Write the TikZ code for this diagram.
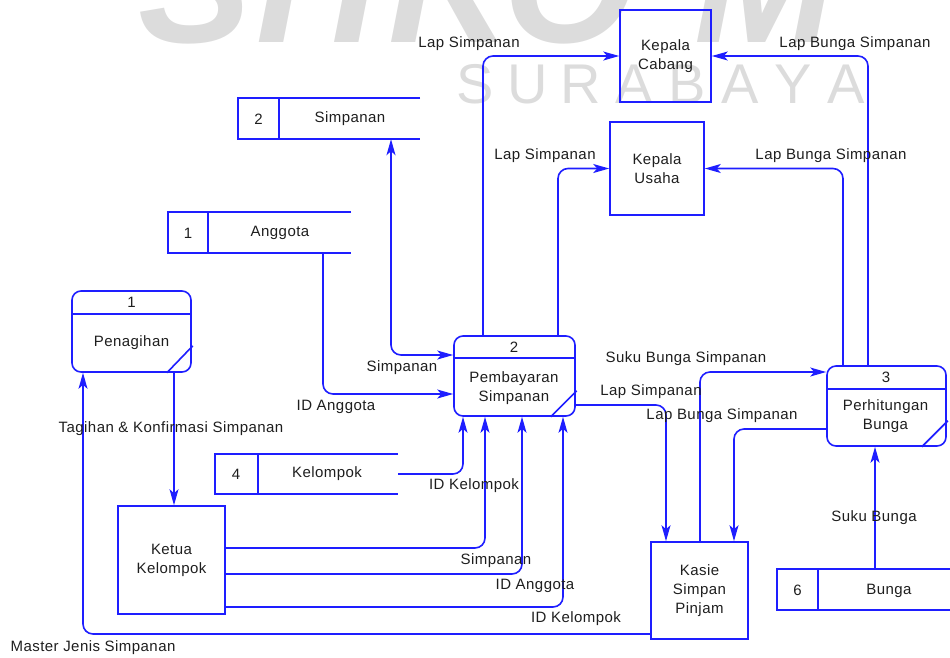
\documentclass[tikz,border=0pt]{standalone}
\usepackage{fontspec}
\setmainfont{Liberation Sans}[LetterSpace=3]
\usetikzlibrary{arrows.meta}

\definecolor{dfdblue}{RGB}{30,30,255}
\definecolor{wmgray}{RGB}{220,220,220}
\definecolor{txt}{RGB}{30,30,30}

\begin{document}
\begin{tikzpicture}[x=1pt,y=-1pt,
  every node/.style={font=\fontsize{15}{19}\selectfont, text=txt, inner sep=0pt},
  line/.style={draw=dfdblue, line width=1.6pt},
  tip/.tip={Stealth[length=16pt,width=9pt,inset=4pt]},
  flow/.style={line, rounded corners=10pt, -tip},
  entity/.style={line, align=center, minimum width=#1},
  proc/.style={line, rounded corners=9pt, minimum width=#1},
  storebox/.style={minimum width=#1, minimum height=41pt},
  label/.style={align=center},
  wmbig/.style={font=\fontsize{170}{170}\bfseries\itshape\selectfont, text=wmgray, anchor=base, inner sep=0pt},
  wmsmall/.style={font=\fontsize{56}{56}\selectfont, text=wmgray, anchor=base, inner sep=0pt}
]
\useasboundingbox (0,0) rectangle (950,657);

% ---------- background lettering ----------
\begin{scope}
  \clip (0,0) rectangle (950,657);
  \foreach \ch/\px [count=\i] in {S/195,T/280,I/355,K/450,O/570,M/765}
    \node[wmbig] (wmb\i) at (\px,42) {\ch};
  \foreach \ch [count=\i] in {S,U,R,A,B,A,Y,A}
    \node[wmsmall] (wms\i) at ({475+53*(\i-1)},103) {\ch};
\end{scope}

% ---------- external entities ----------
\node[entity=91pt, minimum height=92pt] (kc) at (665.5,56) {Kepala\\Cabang};
\node[entity=94pt, minimum height=93pt] (ku) at (657,168.5) {Kepala\\Usaha};
\node[entity=107pt, minimum height=108pt] (ketua) at (171.5,560) {Ketua\\Kelompok};
\node[entity=97pt, minimum height=97pt] (kasie) at (699.5,590.5) {Kasie\\Simpan\\Pinjam};

% ---------- processes ----------
\node[proc=119pt, minimum height=81pt] (p1) at (131.5,331.5) {};
\draw[line] (p1.west |- 0,314) -- (p1.east |- 0,314);
\draw[line] ([xshift=-25pt]p1.south east) -- ([xshift=1pt,yshift=27pt]p1.south east);
\node (p1id) at (131.5,302) {1};
\node (p1nm) at (131.5,343) {Penagihan};

\node[proc=121pt, minimum height=80pt] (p2) at (514.5,376) {};
\draw[line] (p2.west |- 0,358) -- (p2.east |- 0,358);
\draw[line] ([xshift=-25pt]p2.south east) -- ([xshift=1pt,yshift=26pt]p2.south east);
\node (p2id) at (514,347) {2};
\node[align=center] (p2nm) at (514,388.5) {Pembayaran\\Simpanan};

\node[proc=119pt, minimum height=80pt] (p3) at (886.5,406) {};
\draw[line] (p3.west |- 0,389) -- (p3.east |- 0,389);
\draw[line] ([xshift=-25pt]p3.south east) -- ([xshift=1pt,yshift=26pt]p3.south east);
\node (p3id) at (886,377) {3};
\node[align=center] (p3nm) at (885.5,416.5) {Perhitungan\\Bunga};

% ---------- data stores ----------
\node[storebox=182pt] (s2) at (329,118.5) {};
\draw[line] (s2.north east) -- (s2.north west) -- (s2.south west) -- (s2.south east);
\draw[line] ([xshift=41pt]s2.north west) -- ([xshift=41pt]s2.south west);
\node (s2id) at (258.5,119) {2};
\node (s2nm) at (350,119) {Simpanan};

\node[storebox=183pt] (s1) at (259.5,232.5) {};
\draw[line] (s1.north east) -- (s1.north west) -- (s1.south west) -- (s1.south east);
\draw[line] ([xshift=40pt]s1.north west) -- ([xshift=40pt]s1.south west);
\node (s1id) at (188,233) {1};
\node (s1nm) at (280,233) {Anggota};

\node[storebox=183pt, minimum height=40pt] (s4) at (306.5,474) {};
\draw[line] (s4.north east) -- (s4.north west) -- (s4.south west) -- (s4.south east);
\draw[line] ([xshift=43pt]s4.north west) -- ([xshift=43pt]s4.south west);
\node (s4id) at (236,474) {4};
\node (s4nm) at (327,474) {Kelompok};

\node[storebox=177pt] (s6) at (865.5,589.5) {};
\draw[line] (s6.north east) -- (s6.north west) -- (s6.south west) -- (s6.south east);
\draw[line] ([xshift=41pt]s6.north west) -- ([xshift=41pt]s6.south west);
\node (s6id) at (797.5,590) {6};
\node (s6nm) at (889,591) {Bunga};

% ---------- data flows ----------
\draw[flow] (p2.north -| 483,0) |- (kc.west);
\draw[flow] (p2.north -| 558,0) |- (ku.west);
\draw[flow] (p3.north -| 868,0) |- (kc.east);
\draw[flow] (p3.north -| 843,0) |- (ku.east);
\draw[flow, tip-tip] (s2.south -| 391,0) |- (p2.west |- 0,355);
\draw[flow] (s1.south -| 323,0) |- (p2.west |- 0,394);
\draw[flow] (s4.east) -| (p2.south -| 463,0);
\draw[flow] (ketua.east |- 0,548) -| (p2.south -| 485,0);
\draw[flow] (ketua.east |- 0,574) -| (p2.south -| 522,0);
\draw[flow] (ketua.east |- 0,607) -| (p2.south -| 563,0);
\draw[flow] (p1.south -| 174,0) -- (ketua.north -| 174,0);
\draw[flow] (kasie.west |- 0,634) -| (p1.south -| 83,0);
\draw[flow] (p2.east |- 0,405) -| (kasie.north -| 666,0);
\draw[flow] (kasie.north -| 700,0) |- (p3.west |- 0,372);
\draw[flow] (p3.west |- 0,429) -| (kasie.north -| 734,0);
\draw[flow] (s6.north -| 875,0) -- (p3.south -| 875,0);

% ---------- flow labels ----------
\node[label] (l1)  at (469,44)  {Lap Simpanan};
\node[label] (l2)  at (545,156) {Lap Simpanan};
\node[label] (l3)  at (855,44)  {Lap Bunga Simpanan};
\node[label] (l4)  at (831,156) {Lap Bunga Simpanan};
\node[label] (l5)  at (402,368) {Simpanan};
\node[label] (l6)  at (336,407) {ID Anggota};
\node[label] (l7)  at (474,486) {ID Kelompok};
\node[label] (l8)  at (496,561) {Simpanan};
\node[label] (l9)  at (535,586) {ID Anggota};
\node[label] (l10) at (576,619) {ID Kelompok};
\node[label] (l11) at (171,429) {Tagihan \& Konfirmasi Simpanan};
\node[label] (l12) at (93,648)  {Master Jenis Simpanan};
\node[label] (l13) at (651,392) {Lap Simpanan};
\node[label] (l14) at (686,359) {Suku Bunga Simpanan};
\node[label] (l15) at (722,416) {Lap Bunga Simpanan};
\node[label] (l16) at (874,518) {Suku Bunga};
\end{tikzpicture}
\end{document}
